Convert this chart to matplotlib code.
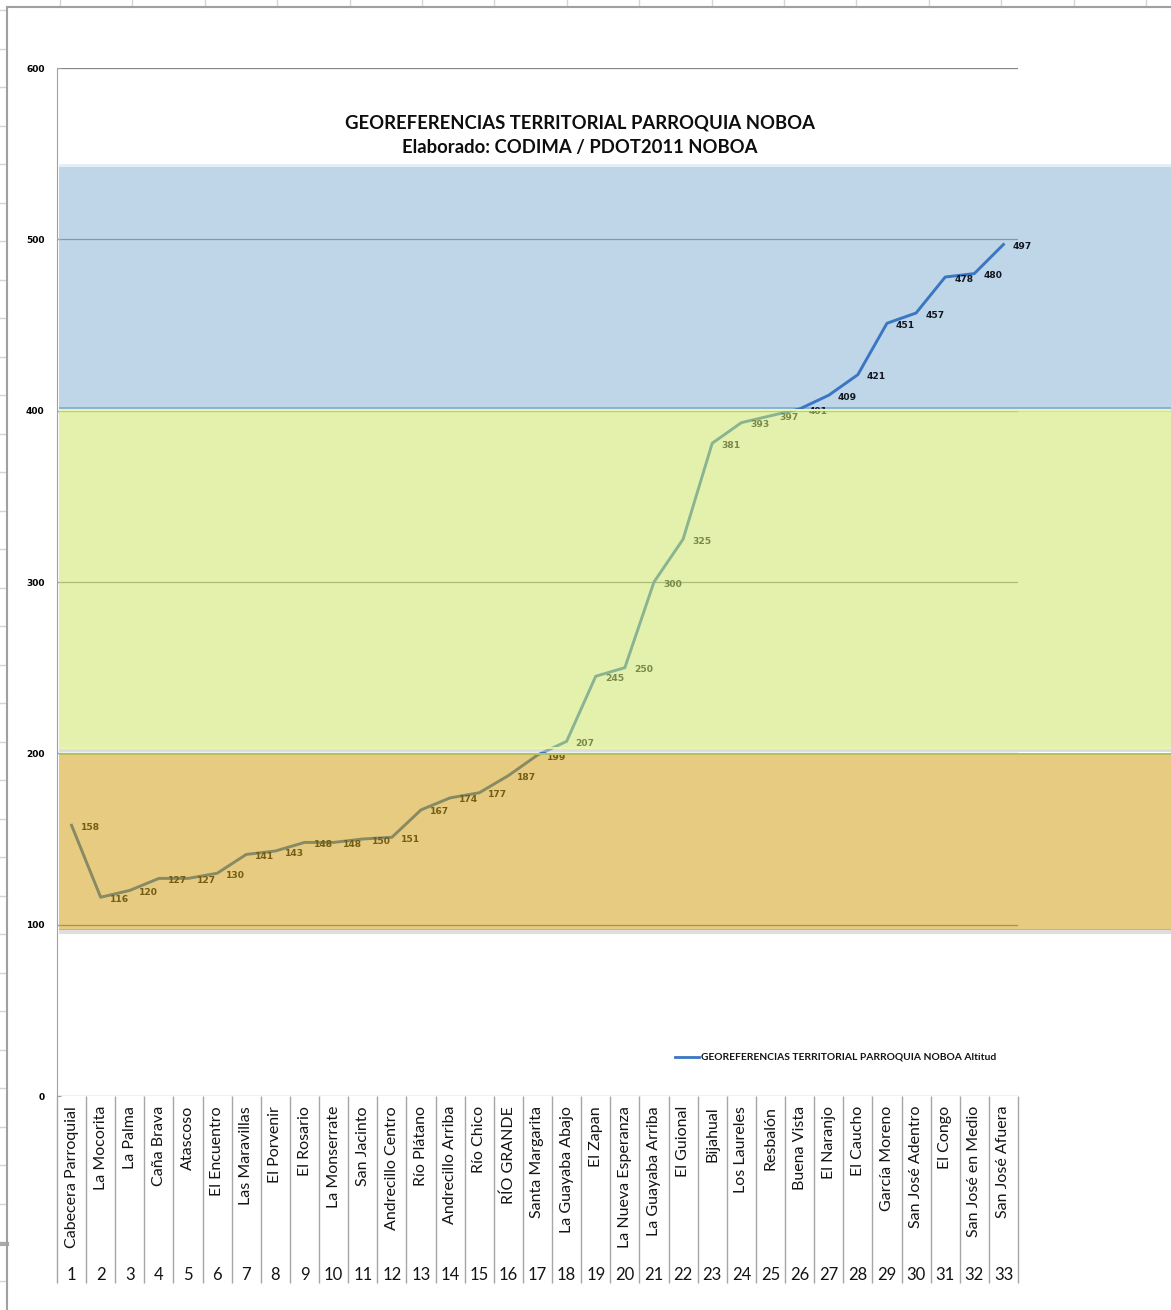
import matplotlib
matplotlib.use("Agg")
import matplotlib.pyplot as plt
import matplotlib.transforms as mtransforms
from matplotlib.lines import Line2D
from matplotlib.patches import Rectangle
import numpy as np

W, H = 1171, 1310

parroquias = [
    "Cabecera Parroquial", "La Mocorita", "La Palma", "Caña Brava", "Atascoso",
    "El Encuentro", "Las Maravillas", "El Porvenir", "El Rosario", "La Monserrate",
    "San Jacinto", "Andrecillo Centro", "Río Plátano", "Andrecillo Arriba",
    "Río Chico", "RÍO GRANDE", "Santa Margarita", "La Guayaba Abajo", "El Zapan",
    "La Nueva Esperanza", "La Guayaba Arriba", "El Guional", "Bijahual",
    "Los Laureles", "Resbalón", "Buena Vista", "El Naranjo", "El Caucho",
    "García Moreno", "San José Adentro", "El Congo", "San José en Medio",
    "San José Afuera",
]
numeros = list(range(1, 34))
altitud = [158, 116, 120, 127, 127, 130, 141, 143, 148, 148, 150, 151, 167, 174,
           177, 187, 199, 207, 245, 250, 300, 325, 381, 393, 397, 401, 409, 421,
           451, 457, 478, 480, 497]

# altitude bands (m): low, mid, high
franja_baja = (97, 199.6)
franja_media = (203, 400.4)
franja_alta = (401.5, 543)

TITULO = "GEOREFERENCIAS TERRITORIAL PARROQUIA NOBOA\nElaborado: CODIMA / PDOT2011 NOBOA"
LEYENDA = "GEOREFERENCIAS TERRITORIAL PARROQUIA NOBOA Altitud"

plt.rcParams["font.family"] = ["DejaVu Sans"]

fig = plt.figure(figsize=(W / 100, H / 100), dpi=100)


def fx(px):
    return px / W


def fy(py):
    return 1 - py / H


# worksheet cells peeking out around the chart object
for x in np.arange(60, W, 72.4):
    fig.add_artist(Line2D([fx(x)] * 2, [fy(0), fy(7)], color="#d4d4d4", lw=1))
for y in np.arange(10, H, 38.5):
    fig.add_artist(Line2D([fx(0), fx(7)], [fy(y)] * 2, color="#d4d4d4", lw=1))
fig.add_artist(Line2D([fx(0), fx(7)], [fy(1244)] * 2, color="#aaaaaa", lw=3))
fig.add_artist(Line2D([fx(7), fx(7)], [fy(7), 0], color="#a0a0a0", lw=1.5))
fig.add_artist(Line2D([fx(7), 1], [fy(7), fy(7)], color="#a0a0a0", lw=1.5))

ax = fig.add_axes([fx(57), fy(1096), fx(961), 1028 / H])
x = np.array(numeros)

ax.set_xlim(0.5, 33.5)
ax.set_ylim(0, 600)
ax.set_yticks(range(0, 601, 100))
ax.yaxis.grid(True, color="#868686", lw=0.9)
ax.set_axisbelow(True)
ax.set_xticks([])
ax.tick_params(axis="y", length=3, direction="in", color="#a0a0a0", pad=9,
               labelsize=6.5)
for lab in ax.get_yticklabels():
    lab.set_fontweight("bold")
for s in ["top", "right", "bottom"]:
    ax.spines[s].set_visible(False)
ax.spines["left"].set_color("#a0a0a0")
ax.spines["left"].set_bounds(0, 600)
ax.patch.set_alpha(0)

ax.plot(x, altitud, color="#3a76c2", lw=2.1, zorder=3, solid_joinstyle="round")
for xi, v in zip(x, altitud):
    ax.annotate(str(v), (xi, v), xytext=(6.5, -1.5), textcoords="offset points",
                ha="left", va="center", fontsize=6.6, fontweight="bold",
                color="#121722", zorder=4)

# translucent bands spanning to the right edge of the chart object
band_tr = mtransforms.blended_transform_factory(fig.transFigure, ax.transData)
x0 = fx(59)
bandas = [
    (franja_alta, (129 / 255, 173 / 255, 211 / 255), 0.5, 1.5, "#e3eff8"),
    (franja_media, (204 / 255, 231 / 255, 105 / 255), 0.55, 5, "#e9f6a6"),
    (franja_baja, (207 / 255, 157 / 255, 12 / 255), 0.52, 5, "#b3c25a"),
]
for (lo, hi), col, a, z, edge in bandas:
    ax.add_patch(Rectangle((x0, lo), 1 - x0, hi - lo, transform=band_tr,
                           facecolor=col, alpha=a, lw=0, zorder=z, clip_on=False))
    ax.add_patch(Rectangle((x0, hi - 0.6), 1 - x0, 1.4, transform=band_tr,
                           facecolor=edge, lw=0, zorder=z + 0.1, clip_on=False))
    ax.add_patch(Rectangle((x0, lo - 0.4), 1 - x0, 0.9, transform=band_tr,
                           facecolor=edge if z > 2 else col, alpha=0.9, lw=0,
                           zorder=z + 0.1, clip_on=False))
    ax.add_patch(Rectangle((x0, lo - 2.3), 1 - x0, 1.9, transform=band_tr,
                           facecolor="#c8c8c8", alpha=0.6, lw=0, zorder=z,
                           clip_on=False))

# category axis: names over numbers, separated by vertical rules
xa = ax.get_xaxis_transform()
sep_bot = -187 / 1028
ax.vlines(np.arange(0.5, 34.5, 1.0), sep_bot, 0, transform=xa, color="#a6a6a6",
          lw=1, clip_on=False)
for xi, nombre, n in zip(x, parroquias, numeros):
    ax.text(xi, -10 / 1028, nombre, transform=xa, rotation=90, ha="center",
            va="top", fontsize=11.5, family="Lato", color="#141414")
    ax.text(xi, -179 / 1028, str(n), transform=xa, ha="center", va="center",
            fontsize=12, family="Lato", color="#141414")

fig.text(fx(580), fy(135), TITULO, ha="center", va="center", fontsize=13.3,
         fontweight="bold", family="Lato", linespacing=1.5, color="#0d0d0d")

fig.add_artist(Line2D([fx(675), fx(699)], [fy(1057)] * 2, color="#3a76c2", lw=2))
fig.text(fx(701), fy(1057), LEYENDA, ha="left", va="center", fontsize=7.4,
         fontweight="bold", family="Lato", color="#141414")

fig.savefig("out.png", dpi=100)
